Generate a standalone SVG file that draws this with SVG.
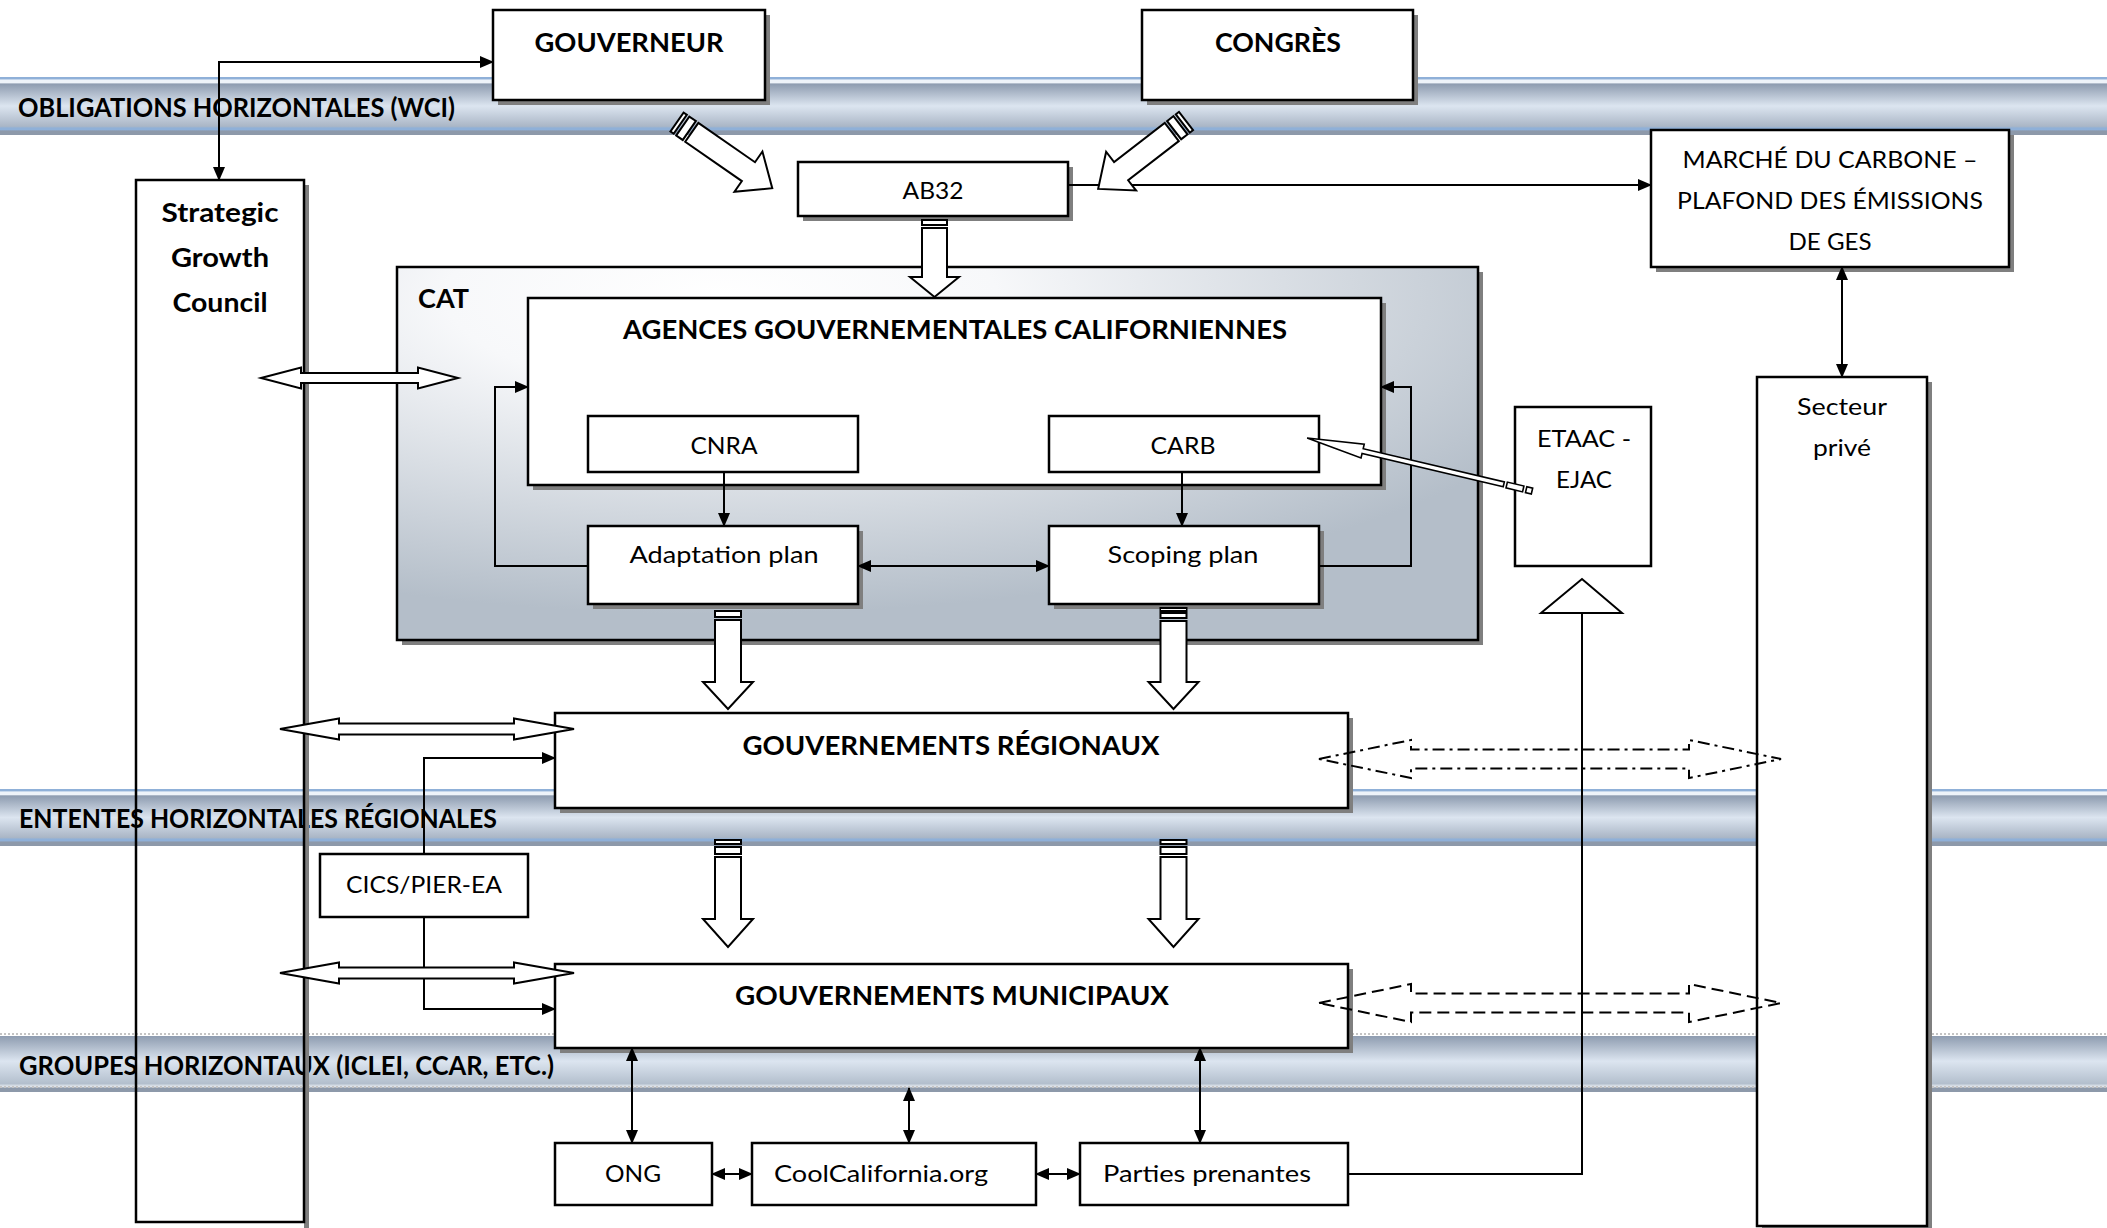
<svg xmlns="http://www.w3.org/2000/svg" width="2107" height="1228" viewBox="0 0 2107 1228">
<defs>
  <linearGradient id="bandGrad" x1="0" y1="0" x2="0" y2="1">
    <stop offset="0" stop-color="#8fb0d8"/>
    <stop offset="0.035" stop-color="#8fb0d8"/>
    <stop offset="0.05" stop-color="#eef3f9"/>
    <stop offset="0.10" stop-color="#eef3f9"/>
    <stop offset="0.12" stop-color="#8e9cb0"/>
    <stop offset="0.5" stop-color="#dce5f0"/>
    <stop offset="0.85" stop-color="#aab6c6"/>
    <stop offset="0.88" stop-color="#8fb0d8"/>
    <stop offset="0.91" stop-color="#8fb0d8"/>
    <stop offset="0.93" stop-color="#8d99aa"/>
    <stop offset="1" stop-color="#8d99aa"/>
  </linearGradient>
  <linearGradient id="band3Grad" x1="0" y1="0" x2="0" y2="1">
    <stop offset="0" stop-color="#8e9cb0"/>
    <stop offset="0.45" stop-color="#dce5f0"/>
    <stop offset="0.85" stop-color="#b3bfcd"/>
    <stop offset="0.9" stop-color="#e4e8ee"/>
    <stop offset="0.93" stop-color="#8d99aa"/>
    <stop offset="1" stop-color="#8d99aa"/>
  </linearGradient>
  <radialGradient id="catGrad" cx="0.3" cy="0.08" r="0.85">
    <stop offset="0" stop-color="#ffffff"/>
    <stop offset="0.3" stop-color="#f7f8fa"/>
    <stop offset="1" stop-color="#b4bec9"/>
  </radialGradient>
  <marker id="ah" viewBox="0 0 14 12" refX="13" refY="6" markerWidth="14" markerHeight="12" markerUnits="userSpaceOnUse" orient="auto-start-reverse">
    <path d="M0,0 L14,6 L0,12 Z" fill="#000"/>
  </marker>
</defs>
<style>
  .box{fill:#fff;stroke:#000;stroke-width:2.5}
  .nofill{fill:none;stroke:#000;stroke-width:2.5}
  .sh{fill:#7f7f7f}
  .t{font-family:Lato,"Liberation Sans",sans-serif;font-size:24px;fill:#000}
  .b{font-weight:bold;font-size:27px}
  .ln{fill:none;stroke:#000;stroke-width:2}
  .dbl{fill:none;stroke:#000;stroke-width:2;marker-start:url(#ah);marker-end:url(#ah)}
  .one{fill:none;stroke:#000;stroke-width:2;marker-end:url(#ah)}
  .blk{fill:#fff;stroke:#000;stroke-width:2;stroke-linejoin:miter}
  .thin{fill:#fff;stroke:#000;stroke-width:1.6;stroke-linejoin:miter}
  .dash{fill:none;stroke:#000;stroke-width:2;stroke-dasharray:12 6}
  .dashdot{fill:none;stroke:#000;stroke-width:2;stroke-dasharray:12 5 3 5}
</style>
<rect width="2107" height="1228" fill="#fff"/>

<g id="bands">
  <rect x="0" y="77" width="2107" height="58" fill="url(#bandGrad)"/>
  <text class="t b" x="18" y="117" textLength="437" lengthAdjust="spacingAndGlyphs">OBLIGATIONS HORIZONTALES (WCI)</text>
  <rect x="0" y="789" width="2107" height="57" fill="url(#bandGrad)"/>
  <text class="t b" x="19" y="828" textLength="478" lengthAdjust="spacingAndGlyphs">ENTENTES HORIZONTALES RÉGIONALES</text>
  <rect x="0" y="1036" width="2107" height="56" fill="url(#band3Grad)"/>
  <line x1="0" y1="1034" x2="2107" y2="1034" stroke="#c4c4c4" stroke-width="2" stroke-dasharray="2 2"/>
  <line x1="0" y1="1087" x2="2107" y2="1087" stroke="#c4c4c4" stroke-width="2" stroke-dasharray="2 2"/>
  <text class="t b" x="19" y="1075" textLength="535" lengthAdjust="spacingAndGlyphs">GROUPES HORIZONTAUX (ICLEI, CCAR, ETC.)</text>
</g>

<g id="nodes">
  <g id="gouverneur">
    <rect class="sh" x="498" y="15" width="272" height="90"/>
    <rect class="box" x="493" y="10" width="272" height="90"/>
    <text class="t b" x="629" y="52" text-anchor="middle" textLength="189" lengthAdjust="spacingAndGlyphs">GOUVERNEUR</text>
  </g>
  <g id="congres">
    <rect class="sh" x="1147" y="15" width="271" height="90"/>
    <rect class="box" x="1142" y="10" width="271" height="90"/>
    <text class="t b" x="1278" y="52" text-anchor="middle" textLength="126" lengthAdjust="spacingAndGlyphs">CONGRÈS</text>
  </g>
  <g id="ab32">
    <rect class="sh" x="803" y="167" width="270" height="54"/>
    <rect class="box" x="798" y="162" width="270" height="54"/>
    <text class="t" x="933" y="199" text-anchor="middle" textLength="61" lengthAdjust="spacingAndGlyphs">AB32</text>
  </g>
  <g id="marche">
    <rect class="sh" x="1656" y="135" width="358" height="137"/>
    <rect class="box" x="1651" y="130" width="358" height="137"/>
    <text class="t" x="1830" y="168" text-anchor="middle" textLength="295" lengthAdjust="spacingAndGlyphs">MARCHÉ DU CARBONE –</text>
    <text class="t" x="1830" y="209" text-anchor="middle" textLength="306" lengthAdjust="spacingAndGlyphs">PLAFOND DES ÉMISSIONS</text>
    <text class="t" x="1830" y="250" text-anchor="middle" textLength="83" lengthAdjust="spacingAndGlyphs">DE GES</text>
  </g>
  <g id="sgc">
    <line x1="306.5" y1="185" x2="306.5" y2="1228" stroke="#7f7f7f" stroke-width="5"/>
    <rect class="nofill" x="136" y="180" width="168" height="1042"/>
    <text class="t b" x="220" y="222" text-anchor="middle" textLength="117" lengthAdjust="spacingAndGlyphs">Strategic</text>
    <text class="t b" x="220" y="267" text-anchor="middle" textLength="98" lengthAdjust="spacingAndGlyphs">Growth</text>
    <text class="t b" x="220" y="312" text-anchor="middle" textLength="95" lengthAdjust="spacingAndGlyphs">Council</text>
  </g>
  <g id="cat">
    <rect class="sh" x="402" y="272" width="1081" height="373"/>
    <rect x="397" y="267" width="1081" height="373" fill="url(#catGrad)" stroke="#000" stroke-width="2.5"/>
    <text class="t b" x="418" y="308" textLength="51" lengthAdjust="spacingAndGlyphs">CAT</text>
  </g>
  <g id="agences">
    <rect class="sh" x="533" y="303" width="853" height="187"/>
    <rect class="box" x="528" y="298" width="853" height="187"/>
    <text class="t b" x="955" y="339" text-anchor="middle" textLength="664" lengthAdjust="spacingAndGlyphs">AGENCES GOUVERNEMENTALES CALIFORNIENNES</text>
  </g>
  <g id="cnra">
    <rect class="box" x="588" y="416" width="270" height="56"/>
    <text class="t" x="724" y="454" text-anchor="middle" textLength="67" lengthAdjust="spacingAndGlyphs">CNRA</text>
  </g>
  <g id="carb">
    <rect class="box" x="1049" y="416" width="270" height="56"/>
    <text class="t" x="1183" y="454" text-anchor="middle" textLength="65" lengthAdjust="spacingAndGlyphs">CARB</text>
  </g>
  <g id="adaptation">
    <rect class="sh" x="593" y="531" width="270" height="78"/>
    <rect class="box" x="588" y="526" width="270" height="78"/>
    <text class="t" x="724" y="563" text-anchor="middle" textLength="189" lengthAdjust="spacingAndGlyphs">Adaptation plan</text>
  </g>
  <g id="scoping">
    <rect class="sh" x="1054" y="531" width="270" height="78"/>
    <rect class="box" x="1049" y="526" width="270" height="78"/>
    <text class="t" x="1183" y="563" text-anchor="middle" textLength="151" lengthAdjust="spacingAndGlyphs">Scoping plan</text>
  </g>
  <g id="etaac">
    <rect class="box" x="1515" y="407" width="136" height="159"/>
    <text class="t" x="1584" y="447" text-anchor="middle" textLength="94" lengthAdjust="spacingAndGlyphs">ETAAC -</text>
    <text class="t" x="1584" y="488" text-anchor="middle" textLength="56" lengthAdjust="spacingAndGlyphs">EJAC</text>
  </g>
  <g id="secteur">
    <rect class="sh" x="1762" y="382" width="170" height="850"/>
    <rect class="box" x="1757" y="377" width="170" height="849"/>
    <text class="t" x="1842" y="415" text-anchor="middle" textLength="90" lengthAdjust="spacingAndGlyphs">Secteur</text>
    <text class="t" x="1842" y="456" text-anchor="middle" textLength="58" lengthAdjust="spacingAndGlyphs">privé</text>
  </g>
  <g id="regionaux">
    <rect class="sh" x="560" y="718" width="793" height="95"/>
    <rect class="box" x="555" y="713" width="793" height="95"/>
    <text class="t b" x="951" y="755" text-anchor="middle" textLength="417" lengthAdjust="spacingAndGlyphs">GOUVERNEMENTS RÉGIONAUX</text>
  </g>
  <g id="municipaux">
    <rect class="sh" x="560" y="969" width="793" height="84"/>
    <rect class="box" x="555" y="964" width="793" height="84"/>
    <text class="t b" x="952" y="1005" text-anchor="middle" textLength="434" lengthAdjust="spacingAndGlyphs">GOUVERNEMENTS MUNICIPAUX</text>
  </g>
  <g id="cics">
    <rect class="box" x="320" y="854" width="208" height="63"/>
    <text class="t" x="424" y="893" text-anchor="middle" textLength="156" lengthAdjust="spacingAndGlyphs">CICS/PIER-EA</text>
  </g>
  <g id="ong">
    <rect class="box" x="555" y="1143" width="157" height="62"/>
    <text class="t" x="633" y="1182" text-anchor="middle" textLength="56" lengthAdjust="spacingAndGlyphs">ONG</text>
  </g>
  <g id="coolcalifornia">
    <rect class="box" x="752" y="1143" width="284" height="62"/>
    <text class="t" x="881" y="1182" text-anchor="middle" textLength="214" lengthAdjust="spacingAndGlyphs">CoolCalifornia.org</text>
  </g>
  <g id="parties">
    <rect class="box" x="1080" y="1143" width="268" height="62"/>
    <text class="t" x="1207" y="1182" text-anchor="middle" textLength="208" lengthAdjust="spacingAndGlyphs">Parties prenantes</text>
  </g>
</g>

<g id="connectors">
  <path class="dbl" d="M493,62 H219 V180"/>
  <path class="one" d="M1068,185 H1651"/>
  <path class="dbl" d="M1842,267 V377"/>
  <path class="one" d="M724,472 V526"/>
  <path class="one" d="M1182,472 V526"/>
  <path class="dbl" d="M858,566 H1049"/>
  <path class="one" d="M588,566 H495 V387 H528"/>
  <path class="one" d="M1319,566 H1411 V387 H1381"/>
  <path class="one" d="M424,854 V758 H555"/>
  <path class="one" d="M424,917 V1009 H555"/>
  <path class="dbl" d="M632,1048 V1143"/>
  <path class="dbl" d="M909,1088 V1143"/>
  <path class="dbl" d="M1200,1048 V1143"/>
  <path class="dbl" d="M712,1174 H752"/>
  <path class="dbl" d="M1036,1174 H1080"/>
  <path class="ln" d="M1348,1174 H1582 V613"/>
  <path class="blk" d="M1541,613 L1582,579 L1622,613 Z"/>

  <g transform="translate(677,122) rotate(34.8)">
    <rect class="blk" x="0" y="-11.5" width="4" height="23"/>
    <rect class="blk" x="7" y="-11.5" width="8" height="23"/>
    <path class="blk" d="M18,-11.5 H87 V-24.5 L116,0 L87,24.5 V11.5 H18 Z"/>
  </g>
  <g transform="translate(1186,121) rotate(142.3)">
    <rect class="blk" x="0" y="-11.5" width="4" height="23"/>
    <rect class="blk" x="7" y="-11.5" width="8" height="23"/>
    <path class="blk" d="M18,-11.5 H82 V-24.5 L111,0 L82,24.5 V11.5 H18 Z"/>
  </g>
  <g transform="translate(1532,491) rotate(193.25)">
    <rect class="thin" x="0" y="-3" width="6" height="6"/>
    <rect class="thin" x="9" y="-3" width="17" height="6"/>
    <path class="thin" d="M29,-2.5 H174 V-7 L231,0 L174,7 V2.5 H29 Z"/>
  </g>

  <rect class="blk" x="922" y="220" width="25" height="5"/>
  <path class="blk" d="M922,228 H947 V277 H959 L934.5,297 L910,277 H922 Z"/>

  <rect class="blk" x="715" y="611" width="26" height="6"/>
  <path class="blk" d="M715,620 H741 V682 H753 L728,709 L703,682 H715 Z"/>
  <rect class="blk" x="1160.5" y="608" width="26" height="3"/>
  <rect class="blk" x="1160.5" y="613" width="26" height="5"/>
  <path class="blk" d="M1160.5,621 H1186.5 V682 H1198.5 L1173.5,709 L1148.5,682 H1160.5 Z"/>

  <rect class="blk" x="715" y="840" width="26" height="4"/>
  <rect class="blk" x="715" y="847" width="26" height="7"/>
  <path class="blk" d="M715,857 H741 V919 H753 L728,947 L703,919 H715 Z"/>
  <rect class="blk" x="1160.5" y="840" width="26" height="4"/>
  <rect class="blk" x="1160.5" y="847" width="26" height="7"/>
  <path class="blk" d="M1160.5,857 H1186.5 V919 H1198.5 L1173.5,947 L1148.5,919 H1160.5 Z"/>

  <path class="blk" d="M261,378 L301,367.5 V373 H418 V367.5 L458,378 L418,388.5 V383 H301 V388.5 Z"/>
  <path class="blk" d="M280,729 L339,718.5 V723.5 H514 V718.5 L574,729 L514,739.5 V734.5 H339 V739.5 Z"/>
  <path class="blk" d="M280,973 L339,962.5 V967.5 H514 V962.5 L574,973 L514,983.5 V978.5 H339 V983.5 Z"/>

  <path class="dashdot" d="M1319,759 L1411,740 V749.5 H1689 V740 L1781,759 L1689,778 V768.5 H1411 V778 Z"/>
  <path class="dash" d="M1319,1003 L1411,984 V993.5 H1689 V984 L1781,1003 L1689,1022 V1012.5 H1411 V1022 Z"/>
</g>
</svg>
